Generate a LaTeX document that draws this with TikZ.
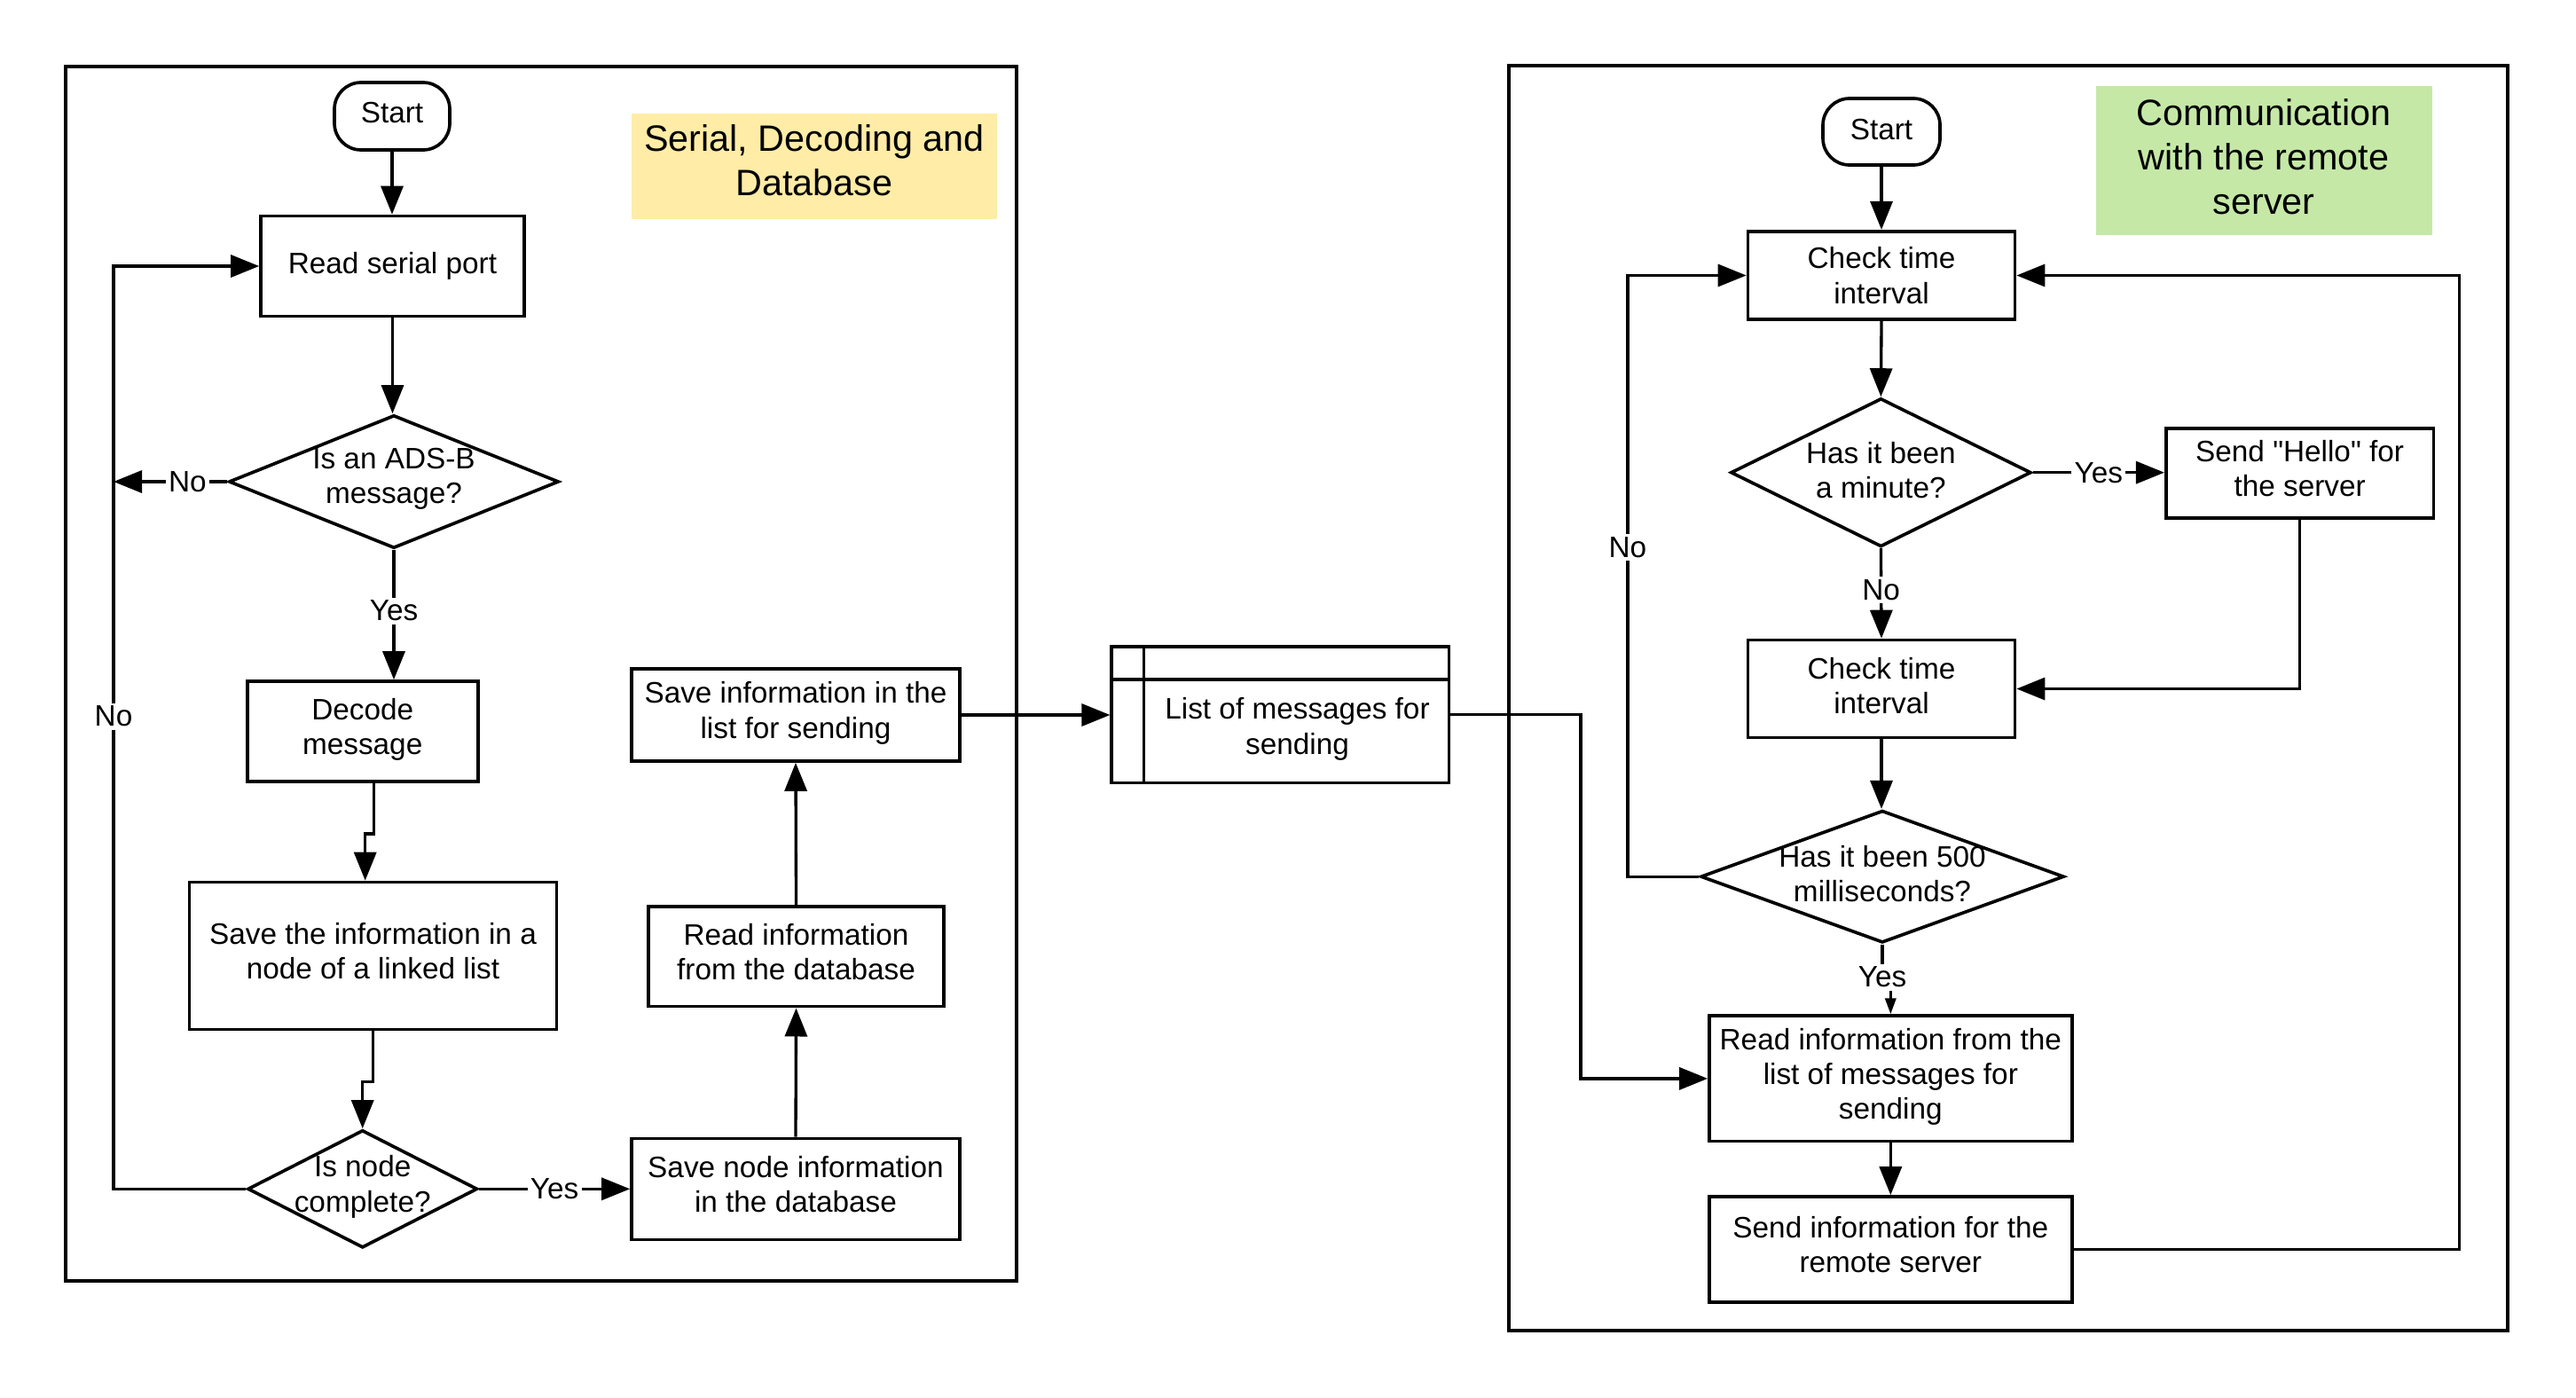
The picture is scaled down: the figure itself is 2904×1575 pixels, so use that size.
\documentclass[tikz,border=0pt]{standalone}
\usepackage{fontspec}
\setmainfont{Liberation Sans}
\newfontfamily\plainsans{Liberation Sans}
\usetikzlibrary{arrows.meta,shapes.geometric,calc}
\definecolor{ttlyellow}{RGB}{255,236,166}
\definecolor{ttlgreen}{RGB}{197,232,167}
\begin{document}
\begin{tikzpicture}[x=0.3pt,y=-0.3pt,
  every node/.style={font=\fontsize{10}{11.8}\selectfont},
  box/.style={draw,line width=1.1pt,rectangle,inner sep=1pt,align=center,text depth=3.3pt},
  term/.style={box,rounded corners=9pt},
  dia/.style={draw,line width=1.1pt,diamond,inner sep=0pt},
  dtext/.style={align=center,inner sep=0pt},
  frame/.style={draw,line width=1.1pt},
  ttl/.style={inner sep=0pt,align=center,font=\fontsize{12.4}{15}\selectfont},
  arr/.style={line width=1pt,-{Triangle[length=9.6pt,width=7.5pt]}},
  smallarr/.style={line width=1pt,-{Triangle[length=5.4pt,width=3.6pt]}},
  ln/.style={line width=1.1pt},
  lbl/.style={fill=white,inner sep=1pt}
]
\useasboundingbox (0,0) rectangle (2904,1575);

% frames
\draw[frame] (74,75) rectangle (1146,1444);
\draw[frame] (1701,74) rectangle (2827,1500);

% titles
\node[ttl,fill=ttlyellow,minimum width=123.6pt,minimum height=35.7pt,text depth=4.4pt] (title1) at (918,187.5) {Serial, Decoding and\\Database};
\node[ttl,fill=ttlgreen,minimum width=113.7pt,minimum height=50.4pt,text depth=2.6pt] (title2) at (2552,181) {Communication\\with the remote\\server};

% left flow
\node[term,minimum width=39pt,minimum height=22.8pt,text depth=2.2pt] (start1) at (442,131) {Start};
\node[box,minimum width=89.1pt,minimum height=33.9pt,text depth=2.3pt] (read) at (442.5,300) {Read serial port};
\node[dia,minimum width=111.6pt,minimum height=45pt] (adsb) at (444,543) {};
\node[dtext] (adsbt) at (444,540) {Is an ADS-B\\message?};
\node[box,minimum width=78pt,minimum height=33.9pt] (decode) at (408.7,824.5) {Decode\\message};
\node[box,minimum width=124.2pt,minimum height=49.8pt] (save) at (420.5,1077.5) {Save the information in a\\node of a linked list};
\node[dia,minimum width=77.7pt,minimum height=39.8pt] (nodec) at (408.7,1340.3) {};
\node[dtext] (nodect) at (408.7,1338) {Is node\\complete?};
\node[box,minimum width=111pt,minimum height=34.2pt] (savenode) at (897,1340.4) {Save node information\\in the database};
\node[box,minimum width=99.9pt,minimum height=33.8pt] (readdb) at (897.5,1078.3) {Read information\\from the database};
\node[box,minimum width=111pt,minimum height=31.2pt] (savelist) at (897,806) {Save information in the\\list for sending};
\coordinate (lx) at (128,543);

% middle store
\node[box,minimum width=114.1pt,minimum height=46.05pt] (listmsg) at (1443.4,805.75) {};
\draw[ln] ([yshift=-11.55pt]listmsg.north west) -- ([yshift=-11.55pt]listmsg.north east);
\draw[ln] ([xshift=11.4pt]listmsg.north west) -- ([xshift=11.4pt]listmsg.south west);
\node[dtext] (listtxt) at (1462.5,822) {List of messages for\\sending};

% right flow
\node[term,minimum width=39.6pt,minimum height=22.5pt,text depth=1.6pt] (start2) at (2121,148.5) {Start};
\node[box,minimum width=90.3pt,minimum height=29.85pt,text depth=0pt] (check1) at (2121,310.5) {Check time\\interval};
\node[dia,minimum width=101.6pt,minimum height=50.2pt] (dmin) at (2120.4,532.7) {};
\node[dtext] (dmint) at (2120.4,530) {Has it been\\a minute?};
\node[box,minimum width=90.5pt,minimum height=30.45pt,font={\fontsize{10}{11.8}\plainsans}] (hello) at (2592.6,533.5) {Send "Hello" for\\the server};
\node[box,minimum width=90.3pt,minimum height=33pt,text depth=2.2pt] (check2) at (2121,776.5) {Check time\\interval};
\node[dia,minimum width=122.9pt,minimum height=44.7pt] (d500) at (2122,988.2) {};
\node[dtext] (d500t) at (2122,985) {Has it been 500\\milliseconds?};
\node[box,minimum width=122.6pt,minimum height=42.4pt] (readlist) at (2131.3,1215.9) {Read information from the\\list of messages for\\sending};
\node[box,minimum width=122.6pt,minimum height=35.7pt] (sendinfo) at (2131.3,1408.5) {Send information for the\\remote server};

% left connectors
\draw[arr] (start1.south) -- (start1.south |- read.north);
\draw[arr] (read.south) -- (read.south |- adsb.north);
\draw[arr] (adsb.west) -- node[lbl,pos=0.35]{No} (adsb.west -| lx);
\draw[arr] (adsb.south) -- node[lbl,pos=0.47]{Yes} (adsb.south |- decode.north);
\draw[arr] ([xshift=3.9pt]decode.south) -- ++(0,57) -| ([xshift=-2.64pt]save.north);
\draw[arr] (save.south) -- ++(0,57) -| (nodec.north);
\draw[arr] (nodec.west) -- (nodec.west -| lx) |- node[lbl,pos=0.256]{No} (read.west);
\draw[arr] (nodec.east) -- node[lbl]{Yes} (nodec.east -| savenode.west);
\draw[arr] (savenode.north) -- (readdb.south);
\draw[arr] (readdb.north) -- (savelist.south);
\draw[arr] (savelist.east) -- (savelist.east -| listmsg.west);

% middle to right
\draw[arr] (listmsg.east) -- ++(146.7,0) |- (readlist.west);

% right connectors
\draw[arr] (start2.south) -- (check1.north);
\draw[arr] (check1.south) -- (dmin.north);
\draw[arr] (dmin.east) -- node[lbl]{Yes} (dmin.east -| hello.west);
\draw[arr] (dmin.south) -- node[lbl,pos=0.46]{No} (check2.north);
\draw[arr] (hello.south) |- (check2.east);
\draw[arr] (check2.south) -- (check2.south |- d500.north);
\draw[arr] (d500.west) -- ++(-80.5,0) |- node[lbl,pos=0.274]{No} (check1.west);
\draw[smallarr] (d500.south) -- node[lbl,pos=1]{Yes} ++(0,37) -| (readlist.north);
\draw[arr] (readlist.south) -- (sendinfo.north);
\draw[arr] (sendinfo.east) -- ++(434.7,0) |- (check1.east);
\end{tikzpicture}
\end{document}
